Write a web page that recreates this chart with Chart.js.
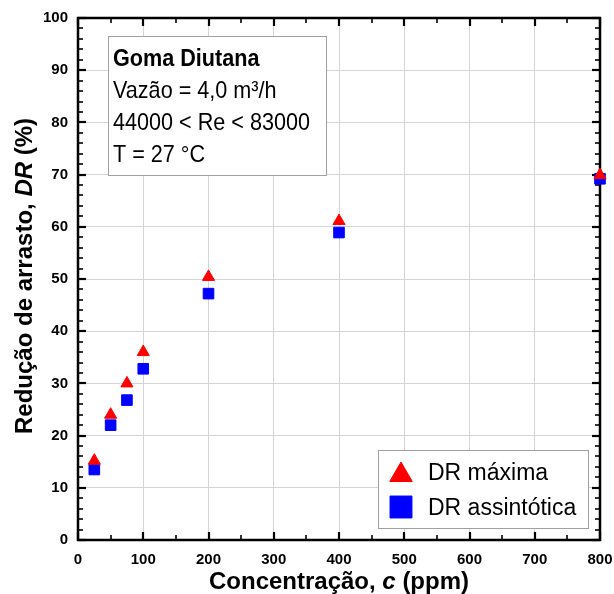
<!DOCTYPE html>
<html>
<head>
<meta charset="utf-8">
<script src="https://cdn.jsdelivr.net/npm/chart.js@4.4.1/dist/chart.umd.min.js"></script>
<style>
  html, body { margin: 0; padding: 0; background: #fff; }
  #wrap { width: 614px; height: 594px; }
</style>
</head>
<body>
<div id="wrap"><canvas id="chart"></canvas></div>
<script>
// dados
const CONC = [25, 50, 75, 100, 200, 400, 800];
const DR_MAX = [15.2, 24.0, 30.0, 36.0, 50.4, 61.1, 69.9];
const DR_ASS = [13.5, 22.0, 26.8, 32.8, 47.2, 58.9, 69.2];
const SERIES_LABELS = ['DR máxima', 'DR assintótica'];
const INFO_LINES = ['Goma Diutana', 'Vazão = 4,0 m³/h', '44000 < Re < 83000', 'T = 27 °C'];

const FONT = '"Liberation Sans", Arial, sans-serif';
const RED = '#ff0000';
const BLUE = '#0000ff';

function line(ctx, x1, y1, x2, y2) {
  ctx.beginPath();
  ctx.moveTo(x1, y1);
  ctx.lineTo(x2, y2);
  ctx.stroke();
}

// moldura + ticks internos
const framePlugin = {
  id: 'frame',
  beforeDatasetsDraw(chart) {
    const { ctx, chartArea: a, scales: { x, y } } = chart;
    ctx.save();
    ctx.strokeStyle = '#000';
    for (let v = 0; v <= 800; v += 50) {
      const px = Math.round(x.getPixelForValue(v));
      const major = v % 100 === 0;
      ctx.lineWidth = major ? 2.2 : 1.6;
      const len = major ? 8 : 5;
      line(ctx, px, a.bottom, px, a.bottom - len);
      line(ctx, px, a.top, px, a.top + len);
    }
    for (let v = 0; v <= 100; v += 2) {
      const py = Math.round(y.getPixelForValue(v));
      const major = v % 10 === 0;
      ctx.lineWidth = major ? 2.2 : 1.6;
      const len = major ? 8 : 5;
      line(ctx, a.left, py, a.left + len, py);
      line(ctx, a.right, py, a.right - len, py);
    }
    ctx.lineWidth = 2.5;
    ctx.strokeRect(a.left, a.top, a.right - a.left, a.bottom - a.top);
    ctx.restore();
  }
};

// caixa de texto, legenda e titulos dos eixos
const boxesPlugin = {
  id: 'boxes',
  afterDatasetsDraw(chart) {
    const { ctx, chartArea: a } = chart;
    ctx.save();

    // caixa de info
    ctx.fillStyle = '#fff';
    ctx.fillRect(108, 36, 218, 139);
    ctx.strokeStyle = '#a0a0a0';
    ctx.lineWidth = 1;
    ctx.strokeRect(108.5, 36.5, 218, 139);
    ctx.fillStyle = '#000';
    ctx.textBaseline = 'alphabetic';
    ctx.textAlign = 'left';
    INFO_LINES.forEach((t, i) => {
      ctx.save();
      ctx.translate(113, 66 + i * 32);
      ctx.scale(0.9, 1);
      ctx.font = (i === 0 ? 'bold ' : '') + '24px ' + FONT;
      ctx.fillText(t, 0, 0);
      ctx.restore();
    });

    // legenda
    ctx.fillStyle = '#fff';
    ctx.fillRect(378, 450, 210, 78);
    ctx.strokeStyle = '#a0a0a0';
    ctx.strokeRect(378.5, 450.5, 210, 78);
    const ds = chart.data.datasets;
    const rows = [472, 507];
    ds.forEach((d, i) => {
      ctx.fillStyle = d.backgroundColor;
      ctx.strokeStyle = d.borderColor;
      ctx.lineWidth = 1;
      Chart.helpers.drawPoint(ctx, {
        pointStyle: d.pointStyle,
        radius: d.pointStyle === 'rect' ? 15.5 : 13,
        borderWidth: 1,
        rotation: 0
      }, 401, rows[i] + (d.pointStyle === 'triangle' ? 3 : 0));
      ctx.fillStyle = '#000';
      ctx.font = '23px ' + FONT;
      ctx.fillText(d.label, 428, rows[i] + 8);
    });

    // titulo eixo x
    ctx.fillStyle = '#000';
    const partsX = [['bold ', 'Concentração, '], ['bold italic ', 'c'], ['bold ', ' (ppm)']];
    drawParts(ctx, partsX, (a.left + a.right) / 2, 589);

    // titulo eixo y
    ctx.save();
    ctx.translate(32, (a.top + a.bottom) / 2 - 3);
    ctx.rotate(-Math.PI / 2);
    const partsY = [['bold ', 'Redução de arrasto, '], ['bold italic ', 'DR'], ['bold ', ' (%)']];
    drawParts(ctx, partsY, 0, 0);
    ctx.restore();

    ctx.restore();
  }
};

function drawParts(ctx, parts, cx, baseY) {
  let total = 0;
  parts.forEach(p => { ctx.font = p[0] + '24px ' + FONT; total += ctx.measureText(p[1]).width; });
  let xx = cx - total / 2;
  ctx.textAlign = 'left';
  parts.forEach(p => {
    ctx.font = p[0] + '24px ' + FONT;
    ctx.fillText(p[1], xx, baseY);
    xx += ctx.measureText(p[1]).width;
  });
}

function noPad(s) {
  s.paddingLeft = 0;
  s.paddingRight = 0;
  s.paddingTop = 0;
  s.paddingBottom = 0;
}

const maxPoints = CONC.map((c, i) => ({ x: c, y: DR_MAX[i] }));
const assPoints = CONC.map((c, i) => ({ x: c, y: DR_ASS[i] }));

new Chart(document.getElementById('chart').getContext('2d'), {
  type: 'scatter',
  data: {
    datasets: [
      { label: SERIES_LABELS[0], data: maxPoints, pointStyle: 'triangle', pointRadius: 7,
        backgroundColor: RED, borderColor: RED, borderWidth: 1, clip: false },
      { label: SERIES_LABELS[1], data: assPoints, pointStyle: 'rect', pointRadius: 7.5,
        backgroundColor: BLUE, borderColor: BLUE, borderWidth: 1, clip: false }
    ]
  },
  options: {
    responsive: true,
    maintainAspectRatio: false,
    animation: false,
    layout: { padding: { top: 18, right: 14, left: 0, bottom: 0 } },
    plugins: { legend: { display: false }, tooltip: { enabled: false } },
    scales: {
      x: {
        type: 'linear', min: 0, max: 800,
        ticks: { stepSize: 100, color: '#000', padding: 11, maxRotation: 0,
          font: { family: FONT, size: 15, weight: 'bold' } },
        grid: { color: '#d4d4d4', lineWidth: 1, drawTicks: false },
        border: { display: false },
        afterFit(s) { s.height = 54; noPad(s); }
      },
      y: {
        type: 'linear', min: 0, max: 100,
        ticks: { stepSize: 10, color: '#000', padding: 10,
          font: { family: FONT, size: 15, weight: 'bold' } },
        grid: { color: '#d4d4d4', lineWidth: 1, drawTicks: false },
        border: { display: false },
        afterFit(s) { s.width = 78; noPad(s); }
      }
    }
  },
  plugins: [framePlugin, boxesPlugin]
});
</script>
</body>
</html>
